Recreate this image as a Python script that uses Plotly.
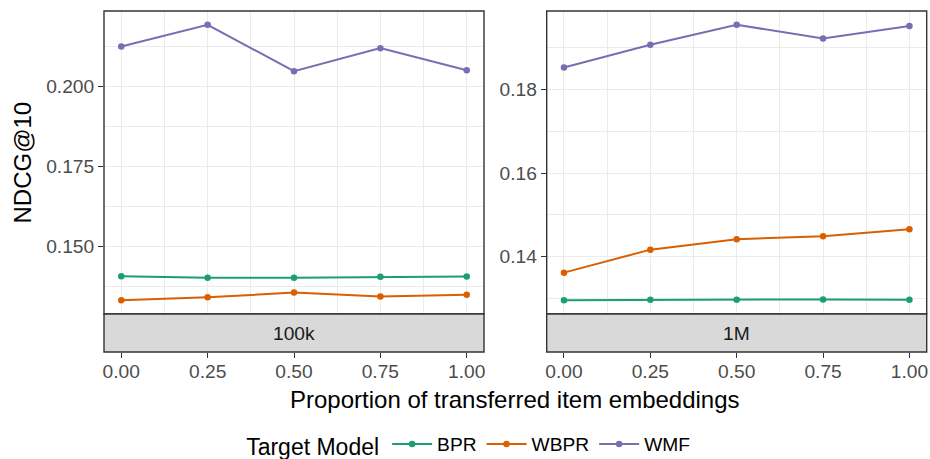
import plotly.graph_objects as go

# Proportion of transferred item embeddings
proportions = [0.00, 0.25, 0.50, 0.75, 1.00]
x_ticks = [0.00, 0.25, 0.50, 0.75, 1.00]
x_tick_labels = ["0.00", "0.25", "0.50", "0.75", "1.00"]

models = ["BPR", "WBPR", "WMF"]
model_colors = {"BPR": "#1B9E77", "WBPR": "#D95F02", "WMF": "#7570B3"}

# NDCG@10 on the 100k dataset
ndcg_100k_bpr = [0.1407, 0.1402, 0.1402, 0.1405, 0.1406]
ndcg_100k_wbpr = [0.1332, 0.1341, 0.1356, 0.1344, 0.1349]
ndcg_100k_wmf = [0.2124, 0.2192, 0.2047, 0.2119, 0.2050]

# NDCG@10 on the 1M dataset
ndcg_1m_bpr = [0.1296, 0.1297, 0.1297, 0.1298, 0.1297]
ndcg_1m_wbpr = [0.1362, 0.1417, 0.1442, 0.1449, 0.1466]
ndcg_1m_wmf = [0.1853, 0.1907, 0.1955, 0.1922, 0.1952]

y_ticks_100k = [0.150, 0.175, 0.200]
y_ticks_1m = [0.14, 0.16, 0.18]

panels = [
    ("100k", {"BPR": ndcg_100k_bpr, "WBPR": ndcg_100k_wbpr, "WMF": ndcg_100k_wmf}, y_ticks_100k, "{:.3f}"),
    ("1M", {"BPR": ndcg_1m_bpr, "WBPR": ndcg_1m_wbpr, "WMF": ndcg_1m_wmf}, y_ticks_1m, "{:.2f}"),
]

W, H = 930, 459
FONT = "Liberation Sans, Arial, Helvetica, sans-serif"
GRID = "#EBEBEB"
BORDER = "#333333"
TICK_SIZE = 19.2
TITLE_SIZE = 24

x_domains = [[104 / W, 484 / W], [546.7 / W, 926.7 / W]]
panel_bottom = 1 - 314 / H
panel_top = 1 - 11 / H
strip_bottom = 1 - 352 / H

fig = go.Figure()
layout = {}

for i, (name, series, yt, fmt) in enumerate(panels):
    n = i + 1
    xa = "x" if n == 1 else f"x{n}"
    ya = "y" if n == 1 else f"y{n}"
    for m in models:
        fig.add_trace(go.Scatter(
            x=proportions, y=series[m], mode="lines+markers", name=m,
            line=dict(color=model_colors[m], width=2),
            marker=dict(color=model_colors[m], size=6.5),
            xaxis=xa, yaxis=ya, legendgroup=m, showlegend=(i == 0),
        ))

    vals = [v for m in models for v in series[m]]
    lo, hi = min(vals), max(vals)
    pad = (hi - lo) * 0.05
    ystep = yt[1] - yt[0]
    y_minor = [t + ystep / 2 for t in [yt[0] - ystep] + yt]

    xkey = "xaxis" if n == 1 else f"xaxis{n}"
    ykey = "yaxis" if n == 1 else f"yaxis{n}"
    layout[xkey] = dict(
        domain=x_domains[i], anchor="free", position=strip_bottom,
        range=[-0.05, 1.05], tickvals=x_ticks, ticktext=x_tick_labels,
        ticks="outside", ticklen=5, tickwidth=1.1, tickcolor=BORDER,
        ticklabelstandoff=-3,
        tickfont=dict(family=FONT, size=TICK_SIZE, color="#4D4D4D"),
        showgrid=True, gridcolor=GRID, gridwidth=1.3,
        minor=dict(tickvals=[0.125, 0.375, 0.625, 0.875], showgrid=True,
                   gridcolor=GRID, gridwidth=0.7, ticks=""),
        showline=False, zeroline=False, automargin=False,
    )
    layout[ykey] = dict(
        domain=[panel_bottom, panel_top], anchor=xa,
        range=[lo - pad, hi + pad], tickvals=yt,
        ticktext=[fmt.format(t) for t in yt],
        ticks="outside", ticklen=5, tickwidth=1.1, tickcolor=BORDER,
        tickfont=dict(family=FONT, size=TICK_SIZE, color="#4D4D4D"),
        showgrid=True, gridcolor=GRID, gridwidth=1.3,
        minor=dict(tickvals=y_minor, showgrid=True, gridcolor=GRID,
                   gridwidth=0.7, ticks=""),
        showline=False, zeroline=False, automargin=False,
    )

    # panel border
    fig.add_shape(type="rect", xref=f"{xa} domain", yref=f"{ya} domain",
                  x0=0, x1=1, y0=0, y1=1, line=dict(color=BORDER, width=1.4),
                  fillcolor="rgba(0,0,0,0)", layer="above")
    # facet strip below the panel
    fig.add_shape(type="rect", xref=f"{xa} domain", yref="paper",
                  x0=0, x1=1, y0=strip_bottom, y1=panel_bottom,
                  line=dict(color=BORDER, width=1.4), fillcolor="#D9D9D9",
                  layer="above")
    fig.add_annotation(text=name, xref=f"{xa} domain", yref="paper",
                       x=0.5, y=(strip_bottom + panel_bottom) / 2,
                       showarrow=False, xanchor="center", yanchor="middle",
                       font=dict(family=FONT, size=TICK_SIZE, color="#1A1A1A"))

# axis titles
fig.add_annotation(text="Proportion of transferred item embeddings",
                   xref="paper", yref="paper", x=(104 + 926.7) / 2 / W, y=1 - 399 / H,
                   showarrow=False, xanchor="center", yanchor="middle",
                   font=dict(family=FONT, size=TITLE_SIZE, color="black"))
fig.add_annotation(text="NDCG@10", xref="paper", yref="paper",
                   x=22 / W, y=(panel_bottom + panel_top) / 2, textangle=-90,
                   showarrow=False, xanchor="center", yanchor="middle",
                   font=dict(family=FONT, size=TITLE_SIZE, color="black"))

fig.update_layout(
    width=W, height=H,
    margin=dict(l=0, r=0, t=0, b=0, autoexpand=False),
    paper_bgcolor="white", plot_bgcolor="white",
    font=dict(family=FONT),
    showlegend=True,
    legend=dict(
        orientation="h", x=0.505, y=1 - 445 / H, xanchor="center", yanchor="middle",
        title=dict(text="Target Model", side="left",
                   font=dict(family=FONT, size=23, color="black")),
        font=dict(family=FONT, size=TICK_SIZE, color="black"),
        itemwidth=40, tracegroupgap=0,
    ),
    **layout,
)

fig.write_html("out.html")
